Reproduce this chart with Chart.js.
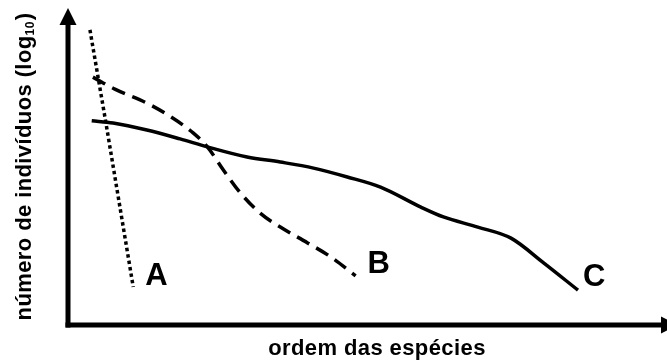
<!DOCTYPE html>
<html lang="pt">
<head>
<meta charset="UTF-8">
<title>Ordem das espécies</title>
<style>
  html, body { margin: 0; padding: 0; background: #fff; }
  #grafico { display: block; }
</style>
</head>
<body>
<canvas id="grafico" width="667" height="360"></canvas>

<script src="https://cdn.jsdelivr.net/npm/chart.js"></script>
<script>
// curvas de ordem-abundância (escala 0-100 nos dois eixos, sem unidades)
const seriesNames = ['A', 'B', 'C'];

const xA = [3.7, 6.4, 11.0];
const yA = [93.1, 63.7, 12.0];

const xB = [4.2, 7.9, 13.3, 16.9, 21.1, 23.5, 26.2, 29.1, 32.4, 35.8, 40.4, 44.3, 48.5];
const yB = [78.2, 74.4, 70.0, 66.2, 60.6, 56.2, 48.9, 41.6, 35.3, 30.9, 25.9, 21.5, 15.5];

const xC = [4.0, 7.6, 13.3, 18.9, 23.5, 30.2, 35.8, 41.4, 47.1, 52.7, 59.5, 63.3, 69.1, 74.7, 80.2, 86.0];
const yC = [64.4, 63.7, 61.5, 58.7, 56.2, 53.0, 51.4, 49.5, 46.7, 43.5, 37.2, 34.1, 30.9, 27.4, 19.6, 11.0];

const xTitle = 'ordem das espécies';
const yTitle = 'número de indivíduos (log';
const ySub = '10';
const yTitleEnd = ')';

function pares(xs, ys) {
  return xs.map((x, i) => ({ x: x, y: ys[i] }));
}

const fonte = '"Liberation Sans", Arial, sans-serif';

// desenha eixos com setas, títulos e as letras no fim de cada curva
const eixos = {
  id: 'eixos',
  afterDraw(chart) {
    const c = chart.ctx;
    const a = chart.chartArea;
    c.save();
    c.fillStyle = '#000';
    c.strokeStyle = '#000';
    c.lineWidth = 5;
    c.lineCap = 'butt';

    // eixo y
    c.beginPath();
    c.moveTo(a.left, a.bottom + 2.5);
    c.lineTo(a.left, a.top + 16);
    c.stroke();
    c.beginPath();
    c.moveTo(a.left, a.top);
    c.lineTo(a.left - 8.5, a.top + 17);
    c.lineTo(a.left + 8.5, a.top + 17);
    c.closePath();
    c.fill();

    // eixo x
    c.beginPath();
    c.moveTo(a.left - 2.5, a.bottom);
    c.lineTo(a.right + 1, a.bottom);
    c.stroke();
    c.beginPath();
    c.moveTo(a.right + 17, a.bottom);
    c.lineTo(a.right, a.bottom - 8.5);
    c.lineTo(a.right, a.bottom + 8.5);
    c.closePath();
    c.fill();

    // título x
    c.letterSpacing = '0.4px';
    c.font = 'bold 22px ' + fonte;
    c.textAlign = 'center';
    c.textBaseline = 'alphabetic';
    c.fillText(xTitle, 377, 355);

    // título y com subscrito
    c.translate(31, 167);
    c.rotate(-Math.PI / 2);
    c.textAlign = 'left';
    const fMain = 'bold 22px ' + fonte;
    const fSub = 'bold 12px ' + fonte;
    c.font = fMain;
    const w1 = c.measureText(yTitle).width;
    const w3 = c.measureText(yTitleEnd).width;
    c.font = fSub;
    const w2 = c.measureText(ySub).width;
    let x0 = -(w1 + w2 + w3) / 2;
    c.font = fMain;
    c.fillText(yTitle, x0, 0);
    c.font = fSub;
    c.fillText(ySub, x0 + w1, 3);
    c.font = fMain;
    c.fillText(yTitleEnd, x0 + w1 + w2 + 1, 0);
    c.setTransform(1, 0, 0, 1, 0, 0);

    // letras das curvas
    c.letterSpacing = '0px';
    const desloc = [[12, -2], [12, -3], [5, -4]];
    c.font = 'bold 31px ' + fonte;
    c.textAlign = 'left';
    chart.data.datasets.forEach((ds, i) => {
      const pts = chart.getDatasetMeta(i).data;
      const ult = pts[pts.length - 1];
      c.fillText(seriesNames[i], ult.x + desloc[i][0], ult.y + desloc[i][1]);
    });
    c.restore();
  }
};

const ctx = document.getElementById('grafico').getContext('2d');
const grafico = new Chart(ctx, {
  type: 'line',
  data: {
    datasets: [
      {
        label: seriesNames[0],
        data: pares(xA, yA),
        borderColor: '#000',
        borderWidth: 3.5,
        borderDash: [3.5, 3],
        tension: 0
      },
      {
        label: seriesNames[1],
        data: pares(xB, yB),
        borderColor: '#000',
        borderWidth: 3.5,
        borderDash: [14, 8],
        cubicInterpolationMode: 'monotone'
      },
      {
        label: seriesNames[2],
        data: pares(xC, yC),
        borderColor: '#000',
        borderWidth: 3.5,
        cubicInterpolationMode: 'monotone'
      }
    ]
  },
  options: {
    responsive: false,
    animation: false,
    layout: { padding: { left: 68, top: 8, right: 6, bottom: 35 } },
    elements: { point: { radius: 0 } },
    scales: {
      x: { type: 'linear', min: 0, max: 100, display: false },
      y: { type: 'linear', min: 0, max: 100, display: false }
    },
    plugins: {
      legend: { display: false },
      tooltip: { enabled: false }
    }
  },
  plugins: [eixos]
});
</script>
</body>
</html>
